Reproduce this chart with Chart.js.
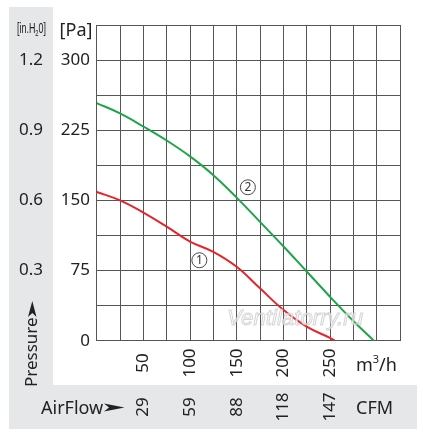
<!DOCTYPE html>
<html>
<head>
<meta charset="utf-8">
<script src="https://cdn.jsdelivr.net/npm/chart.js@4.4.1/dist/chart.umd.min.js"></script>
<style>
html,body{margin:0;padding:0;background:#fff;}
#wrap{width:426px;height:440px;}
</style>
</head>
<body>
<div id="wrap"><canvas id="c" width="426" height="440"></canvas></div>
<script>
// ---- data ----
const flow2 = [0, 25, 50, 75, 100, 125, 150, 175, 200, 225, 250, 275, 297];
const pres2 = [254, 243, 229, 214, 197, 177, 153, 127, 101, 74, 47, 21, 0];
const flow1 = [0, 25, 50, 75, 100, 125, 150, 175, 200, 225, 250, 255];
const pres1 = [159, 150, 137, 122, 106, 95, 79, 56, 33, 15, 3, 0];
const xTickValues = [50, 100, 150, 200, 250];
const xTickLabels = ['50', '100', '150', '200', '250'];
const cfmLabels = ['29', '59', '88', '118', '147'];
const yTickValues = [0, 75, 150, 225, 300];
const yTickLabels = ['0', '75', '150', '225', '300'];
const inchValues = [75, 150, 225, 300];
const inchLabels = ['0.3', '0.6', '0.9', '1.2'];
const curveLabels = [{text: '1', x: 110, y: 86}, {text: '2', x: 162, y: 164}];

const toPts = (xs, ys) => xs.map((x, i) => ({x: x, y: ys[i]}));
const TXT = '#222';
const FONT = "'Noto Sans', sans-serif";

const decor = {
  id: 'decor',
  beforeDraw(chart) {
    const ctx = chart.ctx;
    ctx.save();
    ctx.fillStyle = '#e6e7e8';
    ctx.fillRect(9, 7, 44, 380);
    ctx.fillRect(9, 385, 408, 44);
    ctx.restore();
  },
  afterDatasetsDraw(chart) {
    const ctx = chart.ctx;
    const xs = chart.scales.x, ys = chart.scales.y;
    ctx.save();
    // curve labels
    curveLabels.forEach(l => {
      const px = xs.getPixelForValue(l.x), py = ys.getPixelForValue(l.y);
      ctx.beginPath();
      ctx.arc(px, py, 7.5, 0, Math.PI * 2);
      ctx.fillStyle = '#fff';
      ctx.fill();
      ctx.lineWidth = 0.9;
      ctx.strokeStyle = '#333';
      ctx.stroke();
      ctx.fillStyle = '#333';
      ctx.font = "12px " + FONT;
      ctx.textAlign = 'center';
      ctx.textBaseline = 'middle';
      ctx.fillText(l.text, px, py + 0.5);
    });
    // watermark
    ctx.font = "italic 22px 'Liberation Sans', sans-serif";
    const wm = 'Ventilatorry.ru';
    const w = ctx.measureText(wm).width;
    ctx.translate(295, 319);
    ctx.scale(136 / w, 1);
    ctx.textAlign = 'center';
    ctx.textBaseline = 'middle';
    ctx.lineWidth = 1;
    ctx.fillStyle = 'rgba(255,255,255,0.7)';
    ctx.strokeStyle = 'rgba(185,185,185,0.6)';
    ctx.fillText(wm, 0, 0);
    ctx.strokeText(wm, 0, 0);
    ctx.restore();
  },
  afterDraw(chart) {
    const ctx = chart.ctx;
    const xs = chart.scales.x, ys = chart.scales.y;
    ctx.save();
    ctx.fillStyle = TXT;
    // Pa tick labels
    ctx.font = "17px " + FONT;
    ctx.textAlign = 'right';
    ctx.textBaseline = 'middle';
    yTickValues.forEach((v, i) => ctx.fillText(yTickLabels[i], 90, ys.getPixelForValue(v)));
    // inch tick labels
    ctx.textAlign = 'center';
    inchValues.forEach((v, i) => ctx.fillText(inchLabels[i], 31, ys.getPixelForValue(v)));
    // [Pa]
    ctx.font = "18px " + FONT;
    ctx.fillText('[Pa]', 76, 31);
    // x tick labels rotated
    ctx.font = "17px " + FONT;
    xTickValues.forEach((v, i) => {
      const px = xs.getPixelForValue(v);
      ctx.save();
      ctx.translate(px, 363);
      ctx.rotate(-Math.PI / 2);
      ctx.textAlign = 'center';
      ctx.textBaseline = 'middle';
      ctx.fillText(xTickLabels[i], 0, 0);
      ctx.restore();
      ctx.save();
      ctx.translate(px, 407);
      ctx.rotate(-Math.PI / 2);
      ctx.textAlign = 'center';
      ctx.textBaseline = 'middle';
      ctx.fillText(cfmLabels[i], 0, 0);
      ctx.restore();
    });
    // m3/h
    ctx.font = "18px " + FONT;
    ctx.textAlign = 'left';
    ctx.textBaseline = 'alphabetic';
    let x0 = 356, base = 371;
    ctx.fillText('m', x0, base);
    let wm = ctx.measureText('m').width;
    ctx.font = "11px " + FONT;
    ctx.fillText('3', x0 + wm, base - 8);
    let w3 = ctx.measureText('3').width;
    ctx.font = "18px " + FONT;
    ctx.fillText('/h', x0 + wm + w3, base);
    // CFM
    ctx.fillText('CFM', 356, 414);
    // AirFlow
    ctx.fillText('AirFlow', 41, 414);
    ctx.beginPath();
    ctx.moveTo(104, 403.5);
    ctx.lineTo(124.5, 407.5);
    ctx.lineTo(104, 411.5);
    ctx.lineTo(109, 407.5);
    ctx.closePath();
    ctx.fill();
    // Pressure
    ctx.save();
    ctx.translate(37, 387);
    ctx.rotate(-Math.PI / 2);
    ctx.font = "17px " + FONT;
    ctx.textAlign = 'left';
    ctx.textBaseline = 'alphabetic';
    ctx.fillText('Pressure', 0, 0);
    ctx.restore();
    ctx.beginPath();
    ctx.moveTo(32.3, 301);
    ctx.lineTo(36.5, 317);
    ctx.lineTo(32.3, 313);
    ctx.lineTo(28, 317);
    ctx.closePath();
    ctx.fill();
    // [in.H2O]
    ctx.save();
    const nf = "14px 'Liberation Sans Narrow', 'Liberation Sans', sans-serif";
    const sf = "9px 'Liberation Sans Narrow', 'Liberation Sans', sans-serif";
    ctx.font = nf;
    const a = '[in.H', c = '0]';
    const wa = ctx.measureText(a).width, wc = ctx.measureText(c).width;
    ctx.font = sf;
    const wb = ctx.measureText('2').width;
    const tot = wa + wb + wc;
    ctx.translate(17, 33);
    ctx.scale(29 / tot, 1.1);
    ctx.textAlign = 'left';
    ctx.textBaseline = 'alphabetic';
    ctx.font = nf;
    ctx.fillText(a, 0, 0);
    ctx.font = sf;
    ctx.fillText('2', wa, 2.5);
    ctx.font = nf;
    ctx.fillText(c, wa + wb, 0);
    ctx.restore();
    ctx.restore();
  }
};

new Chart(document.getElementById('c'), {
  type: 'line',
  data: {
    datasets: [
      {data: toPts(flow1, pres1), borderColor: '#e8242a', borderWidth: 2, pointRadius: 0, tension: 0.4, fill: false},
      {data: toPts(flow2, pres2), borderColor: '#1ea548', borderWidth: 2, pointRadius: 0, tension: 0.4, fill: false}
    ]
  },
  options: {
    responsive: false,
    animation: false,
    devicePixelRatio: 1,
    layout: {padding: {left: 96.7, top: 25, right: 26, bottom: 99.3}},
    plugins: {legend: {display: false}, tooltip: {enabled: false}},
    scales: {
      x: {
        type: 'linear', min: 0, max: 325,
        ticks: {display: false, stepSize: 25},
        grid: {color: '#555', lineWidth: 1, drawTicks: false},
        border: {color: '#555', width: 1},
        afterFit: s => { s.height = 0; }
      },
      y: {
        type: 'linear', min: 0, max: 337.5,
        ticks: {display: false, stepSize: 37.5},
        grid: {color: '#555', lineWidth: 1, drawTicks: false},
        border: {color: '#555', width: 1},
        afterFit: s => { s.width = 0; }
      }
    }
  },
  plugins: [decor]
});
</script>
</body>
</html>
